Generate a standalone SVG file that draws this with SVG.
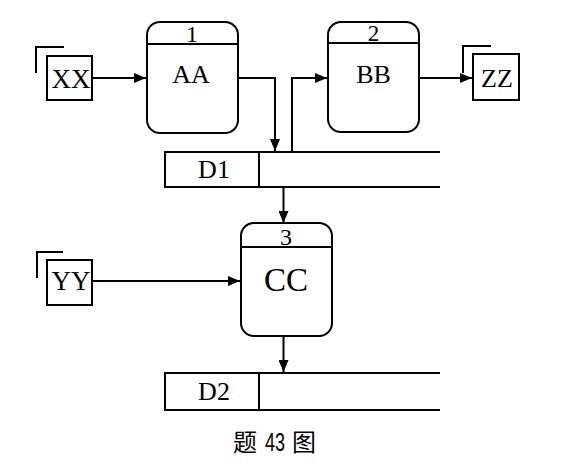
<svg xmlns="http://www.w3.org/2000/svg" width="582" height="472" viewBox="0 0 582 472">
<defs>
<marker id="ah" viewBox="0 0 12 10" refX="12" refY="5" markerWidth="12" markerHeight="10" markerUnits="userSpaceOnUse" orient="auto">
<path d="M0,0 L12,5 L0,10 Z" fill="#000"/>
</marker>
</defs>
<style>
.ln{fill:none;stroke:#000;stroke-width:2}
.bx{fill:#fff;stroke:#000;stroke-width:2}
.t{font-family:"Liberation Serif","Times New Roman",serif;fill:#000;text-anchor:middle}
.cap{font-family:"Noto Sans CJK SC",sans-serif;fill:#000;font-size:24px}
.num{font-family:"Liberation Sans",sans-serif;fill:#000;font-size:25px}
</style>
<rect width="582" height="472" fill="#fff"/>
<g id="connectors">
<path class="ln" d="M92,78 H146" marker-end="url(#ah)"/>
<path class="ln" d="M238,78 H275 V151" marker-end="url(#ah)"/>
<path class="ln" d="M292,152 V78 H327" marker-end="url(#ah)"/>
<path class="ln" d="M419,78 H472" marker-end="url(#ah)"/>
<path class="ln" d="M283.5,188 V223" marker-end="url(#ah)"/>
<path class="ln" d="M92,281 H240" marker-end="url(#ah)"/>
<path class="ln" d="M283.5,336 V372" marker-end="url(#ah)"/>
</g>
<g id="XX">
<path class="ln" d="M36,73 V47 H64"/>
<rect class="bx" x="47" y="56" width="45" height="44"/>
<text class="t" x="71" y="88" font-size="27">XX</text>
</g>
<g id="P1">
<rect class="bx" x="147" y="22" width="91" height="111" rx="13"/>
<line class="ln" x1="147" y1="44" x2="238" y2="44"/>
<text class="t" x="192" y="42" font-size="23">1</text>
<text class="t" x="191" y="83" font-size="26">AA</text>
</g>
<g id="P2">
<rect class="bx" x="328" y="22" width="91" height="110" rx="13"/>
<line class="ln" x1="328" y1="43" x2="419" y2="43"/>
<text class="t" x="373.5" y="41" font-size="23">2</text>
<text class="t" x="373.5" y="83" font-size="26">BB</text>
</g>
<g id="ZZ">
<path class="ln" d="M463,73 V46 H491"/>
<rect class="bx" x="473" y="54" width="46" height="46"/>
<text class="t" x="497" y="87" font-size="26">ZZ</text>
</g>
<g id="D1">
<path class="ln" d="M440,152 H165 V187 H440 M259,152 V187"/>
<text class="t" x="214" y="178" font-size="26">D1</text>
</g>
<g id="P3">
<rect class="bx" x="241" y="223" width="91" height="113" rx="13"/>
<line class="ln" x1="241" y1="247" x2="332" y2="247"/>
<text class="t" x="286" y="245" font-size="24">3</text>
<text class="t" x="286" y="291" font-size="33">CC</text>
</g>
<g id="YY">
<path class="ln" d="M37,278 V252 H63"/>
<rect class="bx" x="47" y="260" width="45" height="45"/>
<text class="t" x="71" y="290" font-size="27">YY</text>
</g>
<g id="D2">
<path class="ln" d="M440,373 H165 V410 H440 M259,373 V410"/>
<text class="t" x="214" y="400" font-size="26">D2</text>
</g>
<g id="caption">
<text class="cap" x="233" y="451">题</text>
<text class="num" x="265" y="451" textLength="20" lengthAdjust="spacingAndGlyphs">43</text>
<text class="cap" x="292" y="451">图</text>
</g>
</svg>
